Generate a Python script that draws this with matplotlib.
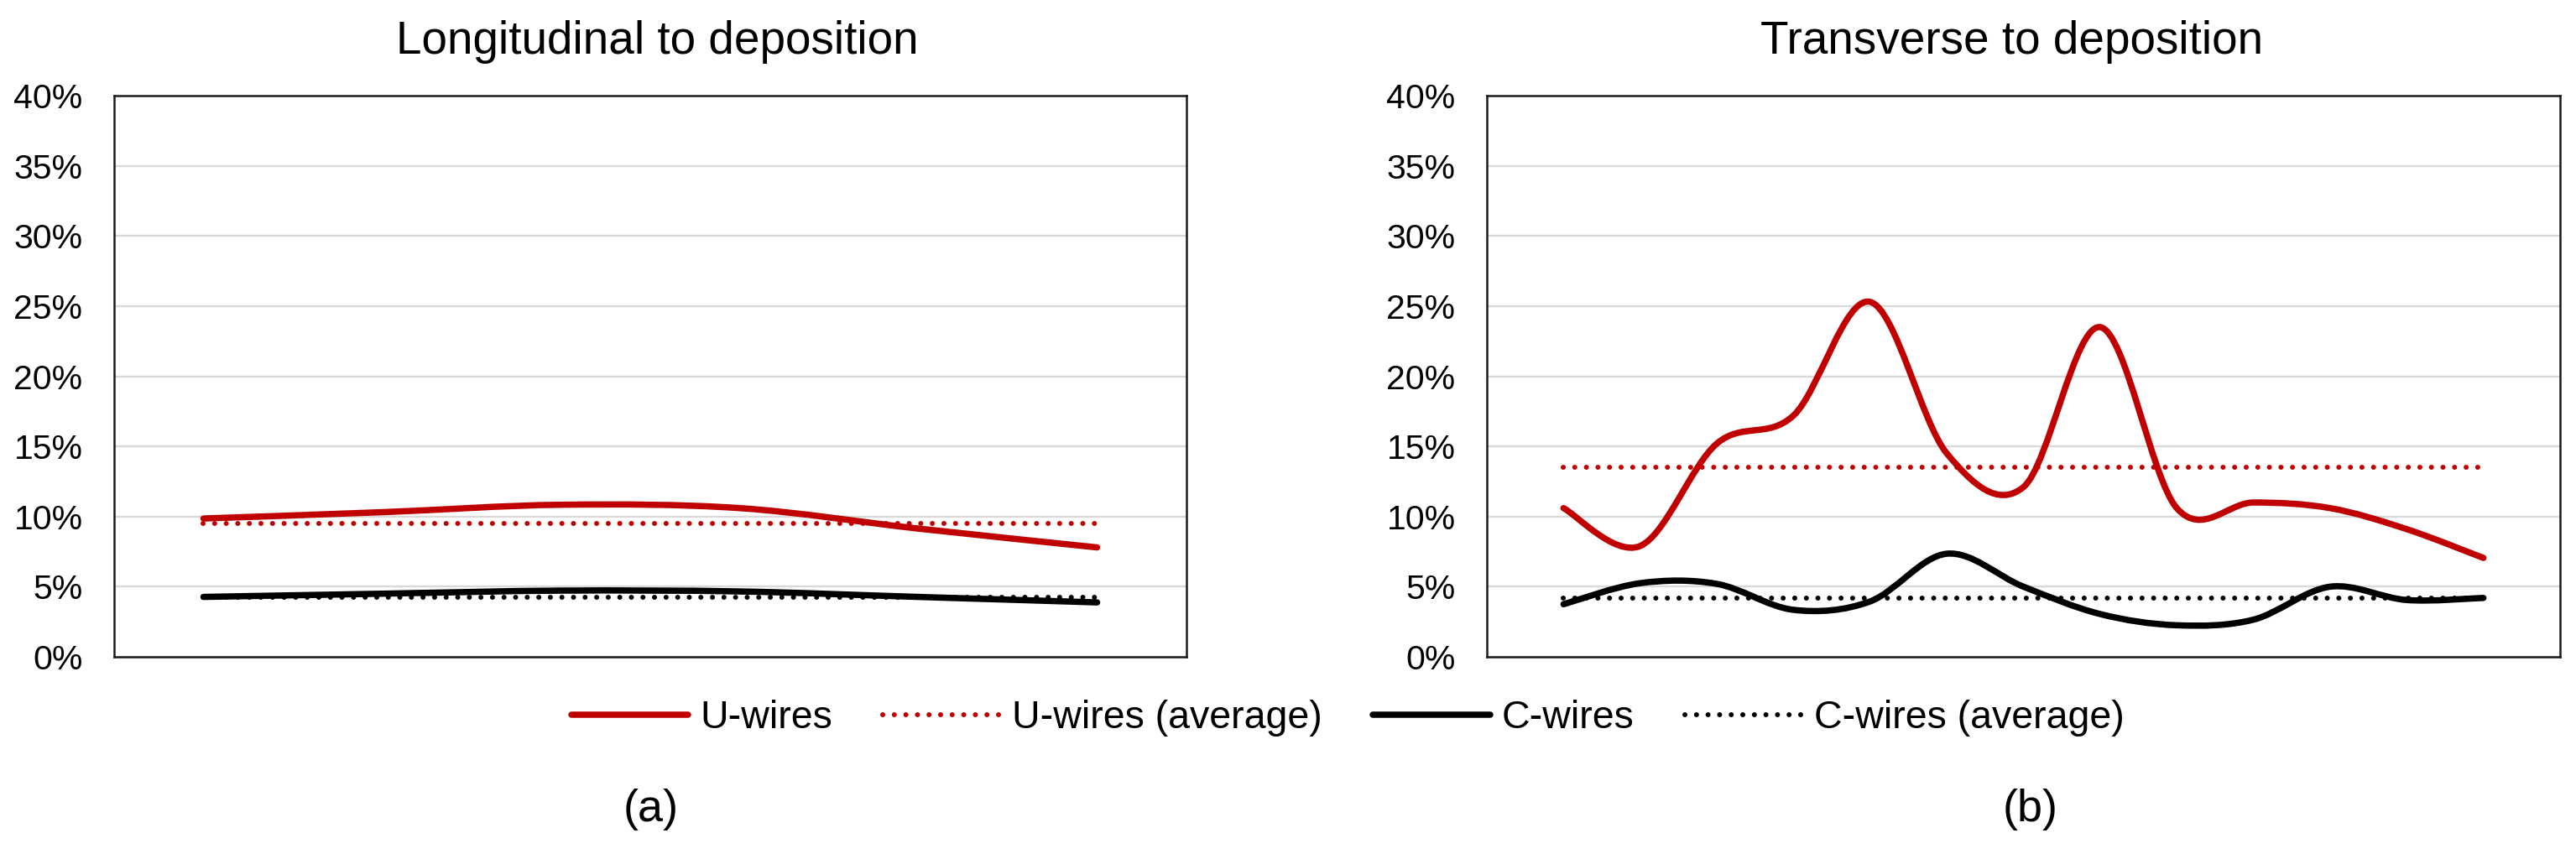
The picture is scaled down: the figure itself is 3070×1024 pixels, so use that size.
import matplotlib
matplotlib.use("Agg")
import matplotlib.pyplot as plt
from matplotlib.path import Path
from matplotlib.patches import PathPatch
from matplotlib.lines import Line2D
from matplotlib.ticker import FuncFormatter

plt.rcParams['font.family'] = ['Liberation Sans', 'DejaVu Sans']

# data (percent)
long_u = [9.86, 10.31, 10.84, 10.6, 9.14, 7.8]
long_c = [4.27, 4.5, 4.72, 4.66, 4.27, 3.88]
long_u_avg = 9.5
long_c_avg = 4.25

trans_u = [10.6, 7.9, 15.2, 17.2, 25.3, 14.5, 12.1, 23.5, 10.6, 11.0, 10.6, 9.1, 7.05]
trans_c = [3.75, 5.25, 5.2, 3.35, 3.95, 7.35, 5.0, 3.05, 2.25, 2.65, 5.0, 4.05, 4.2]
trans_u_avg = 13.5
trans_c_avg = 4.2

titles = ["Longitudinal to deposition", "Transverse to deposition"]
panel_labels = ["(a)", "(b)"]
legend_labels = ["U-wires", "U-wires (average)", "C-wires", "C-wires (average)"]
yticks = [0, 5, 10, 15, 20, 25, 30, 35, 40]

RED = '#C00000'
BLACK = '#000000'
LW = 5.4
DOT_LW = 4.3
DOT = (0, (0.01, 2.3))


def smooth_path(y):
    # Excel-like smoothed line: cubic bezier through every point
    n = len(y)
    pts = [(float(i), float(v)) for i, v in enumerate(y)]
    verts = [pts[0]]
    codes = [Path.MOVETO]
    for i in range(n - 1):
        p0 = pts[i - 1] if i > 0 else pts[i]
        p1 = pts[i]
        p2 = pts[i + 1]
        p3 = pts[i + 2] if i + 2 < n else pts[i + 1]
        c1 = (p1[0] + (p2[0] - p0[0]) / 6, p1[1] + (p2[1] - p0[1]) / 6)
        c2 = (p2[0] - (p3[0] - p1[0]) / 6, p2[1] - (p3[1] - p1[1]) / 6)
        verts += [c1, c2, p2]
        codes += [Path.CURVE4] * 3
    return Path(verts, codes)


def draw_panel(ax, u, c, u_avg, c_avg, xlim):
    n = len(u)
    ax.set_xlim(*xlim)
    ax.set_ylim(0, 40)
    ax.set_yticks(yticks)
    ax.yaxis.set_major_formatter(FuncFormatter(lambda v, p: f"{v:.0f}%"))
    ax.set_xticks([])
    ax.tick_params(axis='y', length=0, pad=27, labelsize=29.5)
    ax.grid(axis='y', color='#D9D9D9', lw=1.7)
    ax.set_axisbelow(True)
    for s in ax.spines.values():
        s.set_color('#1a1a1a')
        s.set_linewidth(1.8)

    ax.plot([0, n - 1], [u_avg, u_avg], color=RED, lw=DOT_LW, linestyle=DOT,
            dash_capstyle='round')
    ax.plot([0, n - 1], [c_avg, c_avg], color=BLACK, lw=DOT_LW, linestyle=DOT,
            dash_capstyle='round')
    for y, col in ((c, BLACK), (u, RED)):
        ax.add_patch(PathPatch(smooth_path(y), fill=False, edgecolor=col, lw=LW,
                               capstyle='round', joinstyle='round'))


fig = plt.figure(figsize=(30.7, 10.24), dpi=100)
ax1 = fig.add_axes([136 / 3070, 1 - 783 / 1024, 1278 / 3070, 669 / 1024])
ax2 = fig.add_axes([1772 / 3070, 1 - 783 / 1024, 1279 / 3070, 669 / 1024])

draw_panel(ax1, long_u, long_c, long_u_avg, long_c_avg, (-0.5, len(long_u) - 0.5))
draw_panel(ax2, trans_u, trans_c, trans_u_avg, trans_c_avg, (-1, len(trans_u)))

fig.text(783 / 3070, 1 - 64 / 1024, titles[0], ha='center', va='baseline', fontsize=39.5)
fig.text(2398 / 3070, 1 - 64 / 1024, titles[1], ha='center', va='baseline', fontsize=39.5)

fig.text(776 / 3070, 1 - 965 / 1024, panel_labels[0], ha='center', va='center', fontsize=39)
fig.text(2420 / 3070, 1 - 965 / 1024, panel_labels[1], ha='center', va='center', fontsize=39)

handles = [
    Line2D([], [], color=RED, lw=LW, solid_capstyle='round'),
    Line2D([], [], color=RED, lw=DOT_LW, linestyle=DOT, dash_capstyle='round'),
    Line2D([], [], color=BLACK, lw=LW, solid_capstyle='round'),
    Line2D([], [], color=BLACK, lw=DOT_LW, linestyle=DOT, dash_capstyle='round'),
]
fig.legend(handles, legend_labels, loc='center', ncol=4, frameon=False,
           bbox_to_anchor=(1606 / 3070, 1 - 856 / 1024), fontsize=33.5,
           handlelength=3.0, handletextpad=0.3, columnspacing=1.3,
           borderpad=0, borderaxespad=0)

fig.savefig("out.png", dpi=100, facecolor='white')
